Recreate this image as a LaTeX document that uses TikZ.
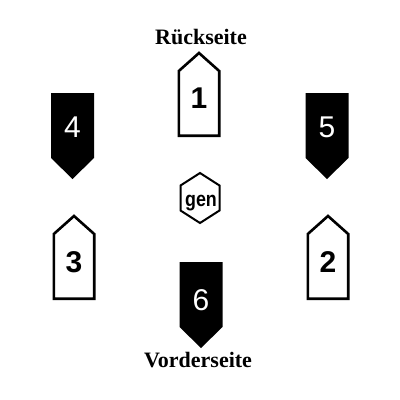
\documentclass[tikz,border=0pt]{standalone}
\usepackage{fontspec}
\setmainfont{Liberation Serif}
\newfontfamily\digitfont{Liberation Sans}
\usetikzlibrary{positioning}

\tikzset{
  tabline/.style={line width=2.6pt, line join=miter},
  digit/.style={font=\digitfont\bfseries\fontsize{30}{30}\selectfont},
  whitedigit/.style={font=\digitfont\fontsize{30}{30}\selectfont, text=white},
  sidelabel/.style={font=\bfseries\fontsize{22}{22}\selectfont, anchor=base},
}
\newcommand{\uptab}[2]{\draw[tabline] (#1,#2+1) -- ++(20.2,18) -- ++(0,64.7) -- ++(-40.4,0) -- ++(0,-64.7) -- cycle;}
\newcommand{\downtab}[2]{\fill (#1-21.5,#2) -- ++(43,0) -- ++(0,65) -- ++(-21.5,21) -- ++(-21.5,-21) -- cycle;}

\begin{document}
\begin{tikzpicture}[x=1pt,y=-1pt]
\fill[white] (0,0) rectangle (400,400);
\useasboundingbox (0,0) rectangle (400,400);

\uptab{199}{52}
\uptab{74}{215}
\uptab{328}{215}
\downtab{72.5}{93}
\downtab{327}{93}
\downtab{201}{262}

\node[digit] (t1) at (199,98) {1};
\node[digit] (t3) at (74,262) {3};
\node[digit] (t2) at (328,262) {2};
\node[whitedigit] (t4) at (72.5,127) {4};
\node[whitedigit] (t5) at (327,127) {5};
\node[whitedigit] (t6) at (201,300) {6};

\draw[line width=2pt] (200,173) -- (219.5,185.5) -- (219.5,210.5) -- (200,223) -- (180.5,210.5) -- (180.5,185.5) -- cycle;
\node[font=\digitfont\bfseries\fontsize{21}{21}\selectfont, anchor=base, xscale=0.85, transform shape] (gen) at (201,206) {gen};

\node[sidelabel] (back) at (201,44) {Rückseite};
\node[sidelabel] (front) at (198,367) {Vorderseite};
\end{tikzpicture}
\end{document}
